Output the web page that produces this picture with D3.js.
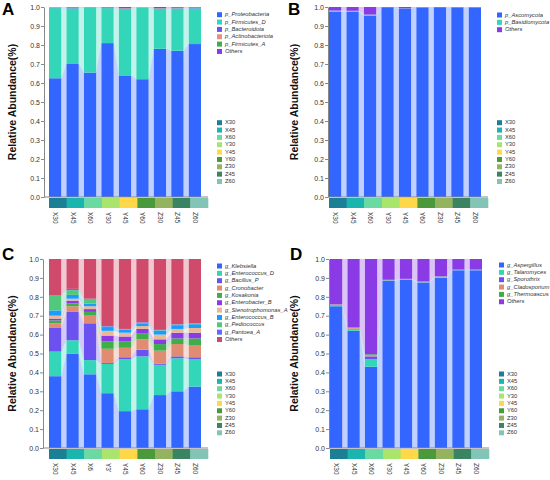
<!DOCTYPE html>
<html>
<head>
<meta charset="utf-8">
<script src="https://cdn.jsdelivr.net/npm/d3@7"></script>
<style>
  body { margin: 0; background: #fff; }
  svg { font-family: "Liberation Sans", Arial, sans-serif; }
</style>
</head>
<body>
<svg id="chart" width="550" height="480"></svg>
<script>
// Samples shared by all four panels
const samples = ["X30", "X45", "X60", "Y30", "Y45", "Y60", "Z30", "Z45", "Z60"];
const sampleLabelsC = ["X30", "X45", "X6", "Y3'", "Y45", "Y60", "Z30", "Z45", "Z60"];
const sampleColors = ["#1b7f95", "#1bb5b0", "#6bd9a2", "#a9e56c", "#ffd84a", "#4a9a3c", "#93b35f", "#3b8463", "#82c5b6"];
const yTicks = [0, 0.1, 0.2, 0.3, 0.4, 0.5, 0.6, 0.7, 0.8, 0.9, 1.0];

// Panel A - bacterial phyla
const seriesA = ["p_Proteobacteria", "p_Firmicutes_D", "p_Bacteroidota", "p_Actinobacteriota", "p_Firmicutes_A", "Others"];
const colorsA = ["#3366ff", "#33d6b8", "#6b52f0", "#e5917a", "#3fae4a", "#8b3be6"];
const proteobacteria = [0.625, 0.700, 0.655, 0.810, 0.640, 0.620, 0.780, 0.770, 0.805];
const firmicutesD = [0.369, 0.293, 0.340, 0.184, 0.350, 0.376, 0.210, 0.222, 0.188];
const bacteroidota = [0.001, 0.002, 0.001, 0.001, 0.001, 0.001, 0.002, 0.002, 0.002];
const actinobacteriota = [0.004, 0.001, 0.002, 0.001, 0.001, 0.002, 0.001, 0.001, 0.001];
const firmicutesA = [0.001, 0.001, 0.001, 0.001, 0.001, 0.001, 0.001, 0.001, 0.001];
const othersA = [0.000, 0.003, 0.001, 0.003, 0.007, 0.000, 0.006, 0.004, 0.003];

// Panel B - fungal phyla
const seriesB = ["p_Ascomycota", "p_Basidiomycota", "Others"];
const colorsB = ["#3366ff", "#33d6b8", "#8b3be6"];
const ascomycota = [0.975, 0.975, 0.955, 0.995, 0.992, 0.997, 0.995, 0.998, 0.998];
const basidiomycota = [0.006, 0.005, 0.005, 0.001, 0.001, 0.001, 0.001, 0.001, 0.001];
const othersB = [0.019, 0.020, 0.040, 0.004, 0.007, 0.002, 0.004, 0.001, 0.001];

// Panel C - bacterial genera
const seriesC = ["g_Klebsiella", "g_Enterococcus_D", "g_Bacillus_P", "g_Cronobacter", "g_Kosakonia", "g_Enterobacter_B",
  "g_Stenotrophomonas_A", "g_Enterococcus_B", "g_Pediococcus", "g_Pantoea_A", "Others"];
const colorsC = ["#3366ff", "#33d6b8", "#6b52f0", "#e08c72", "#3fae4a", "#8b3be6", "#e9b894", "#1a9cff", "#4fc97e", "#5b6cff", "#cf4a6b"];
const klebsiella = [0.380, 0.500, 0.390, 0.290, 0.195, 0.205, 0.280, 0.300, 0.325];
const enterococcusD = [0.130, 0.070, 0.075, 0.155, 0.275, 0.280, 0.160, 0.175, 0.145];
const bacillusP = [0.125, 0.150, 0.195, 0.005, 0.010, 0.035, 0.005, 0.010, 0.010];
const cronobacter = [0.025, 0.030, 0.040, 0.075, 0.050, 0.055, 0.070, 0.065, 0.065];
const kosakonia = [0.015, 0.015, 0.020, 0.040, 0.035, 0.030, 0.035, 0.030, 0.035];
const enterobacterB = [0.010, 0.015, 0.015, 0.030, 0.025, 0.025, 0.025, 0.030, 0.030];
const stenotrophomonasA = [0.015, 0.010, 0.015, 0.025, 0.020, 0.015, 0.025, 0.020, 0.025];
const enterococcusB = [0.028, 0.020, 0.015, 0.020, 0.015, 0.015, 0.020, 0.020, 0.020];
const pediococcus = [0.077, 0.025, 0.020, 0.002, 0.003, 0.002, 0.003, 0.003, 0.003];
const pantoeaA = [0.003, 0.007, 0.005, 0.003, 0.002, 0.003, 0.002, 0.002, 0.002];
const othersC = [0.192, 0.158, 0.210, 0.355, 0.370, 0.335, 0.375, 0.345, 0.340];

// Panel D - fungal genera
const seriesD = ["g_Aspergillus", "g_Talaromyces", "g_Sporothrix", "g_Cladosporium", "g_Thermoascus", "Others"];
const colorsD = ["#3366ff", "#33d6b8", "#6b52f0", "#e08c72", "#3fae4a", "#8b3be6"];
const aspergillus = [0.750, 0.620, 0.430, 0.885, 0.890, 0.875, 0.900, 0.940, 0.940];
const talaromyces = [0.005, 0.008, 0.040, 0.002, 0.002, 0.002, 0.002, 0.001, 0.001];
const sporothrix = [0.002, 0.003, 0.015, 0.001, 0.001, 0.001, 0.001, 0.001, 0.001];
const cladosporium = [0.002, 0.005, 0.006, 0.001, 0.001, 0.002, 0.003, 0.001, 0.001];
const thermoascus = [0.001, 0.004, 0.005, 0.001, 0.001, 0.001, 0.002, 0.001, 0.001];
const othersD = [0.240, 0.360, 0.504, 0.110, 0.105, 0.119, 0.092, 0.056, 0.056];

const svg = d3.select('#chart');

const panels = [
  { letter: 'A', ox: 0, oy: 0, axisX: 44, barLeft: 49, barRight: 201, top: 7, bottom: 197,
    lx: 217, ly: 14.7, sy: 122.7, letterX: 2, letterY: 15, labelX: 13, labels: samples,
    series: seriesA, colors: colorsA,
    values: [proteobacteria, firmicutesD, bacteroidota, actinobacteriota, firmicutesA, othersA] },
  { letter: 'B', ox: 275, oy: 0, axisX: 53, barLeft: 54, barRight: 206, top: 7, bottom: 197,
    lx: 222, ly: 15, sy: 122.7, letterX: 13, letterY: 15, labelX: 20, labels: samples,
    series: seriesB, colors: colorsB,
    values: [ascomycota, basidiomycota, othersB] },
  { letter: 'C', ox: 0, oy: 240, axisX: 43, barLeft: 49, barRight: 201, top: 19, bottom: 208,
    lx: 217, ly: 26, sy: 134, letterX: 2, letterY: 20, labelX: 13, labels: sampleLabelsC,
    series: seriesC, colors: colorsC,
    values: [klebsiella, enterococcusD, bacillusP, cronobacter, kosakonia, enterobacterB,
      stenotrophomonasA, enterococcusB, pediococcus, pantoeaA, othersC] },
  { letter: 'D', ox: 275, oy: 240, axisX: 54, barLeft: 55, barRight: 207, top: 19, bottom: 208,
    lx: 224, ly: 25, sy: 134, letterX: 15, letterY: 20, labelX: 20, labels: samples,
    series: seriesD, colors: colorsD,
    values: [aspergillus, talaromyces, sporothrix, cladosporium, thermoascus, othersD] }
];

panels.forEach(drawPanel);

function drawPanel(p) {
  const g = svg.append('g').attr('transform', `translate(${p.ox},${p.oy})`);

  // Build a table for d3.stack
  const table = samples.map((s, i) => {
    const row = { sample: s };
    p.series.forEach((name, k) => { row[name] = p.values[k][i]; });
    return row;
  });
  const stacked = d3.stack().keys(p.series)(table);

  const x = d3.scaleBand()
    .domain(samples)
    .range([p.barLeft, p.barRight])
    .paddingInner(0.3)
    .paddingOuter(0);
  const bw = x.bandwidth();

  const y = d3.scaleLinear()
    .domain([0, 1])
    .range([p.bottom, p.top]);

  // Light connecting bands between neighbouring bars
  const band = d3.area()
    .x(d => d.x)
    .y0(d => y(d.s[0]))
    .y1(d => y(d.s[1]));

  stacked.forEach((layer, k) => {
    for (let i = 0; i < samples.length - 1; i++) {
      const pts = [
        { x: x(samples[i]) + bw, s: layer[i] },
        { x: x(samples[i + 1]), s: layer[i + 1] }
      ];
      g.append('path')
        .attr('d', band(pts))
        .attr('fill', p.colors[k])
        .attr('fill-opacity', 0.3);
    }
  });

  // Stacked bars
  g.selectAll('.layer')
    .data(stacked)
    .join('g')
    .attr('fill', (d, k) => p.colors[k])
    .selectAll('rect')
    .data(d => d)
    .join('rect')
    .attr('x', d => x(d.data.sample))
    .attr('width', bw)
    .attr('y', d => y(d[1]))
    .attr('height', d => Math.max(0, y(d[0]) - y(d[1])));

  // Y axis
  const yAxis = g.append('g')
    .attr('transform', `translate(${p.axisX},0)`)
    .call(d3.axisLeft(y).tickValues(yTicks).tickFormat(d3.format('.1f')).tickSize(3).tickSizeOuter(0));
  yAxis.select('.domain').attr('stroke', '#888');
  yAxis.selectAll('.tick line').attr('stroke', '#888');
  yAxis.selectAll('.tick text')
    .attr('fill', '#333')
    .attr('font-size', 7)
    .attr('x', -4);

  // X axis baseline
  const stripRight = p.barRight + 7;
  g.append('line')
    .attr('x1', p.axisX).attr('x2', stripRight)
    .attr('y1', p.bottom).attr('y2', p.bottom)
    .attr('stroke', '#888');

  // Sample colour strip
  const cellW = (stripRight - p.barLeft) / samples.length;
  g.selectAll('.cell')
    .data(samples)
    .join('rect')
    .attr('x', (d, i) => p.barLeft + i * cellW)
    .attr('y', p.bottom + 1)
    .attr('width', cellW + 0.3)
    .attr('height', 10)
    .attr('fill', (d, i) => sampleColors[i]);

  // Rotated sample labels
  g.selectAll('.xlab')
    .data(p.labels)
    .join('text')
    .attr('transform', (d, i) => `translate(${x(samples[i]) + bw / 2 - 2},${p.bottom + 15}) rotate(90)`)
    .attr('font-size', 6.5)
    .attr('fill', '#333')
    .text(d => d);

  // Y axis title
  g.append('text')
    .attr('transform', `translate(${p.labelX},${(p.top + p.bottom) / 2}) rotate(-90)`)
    .attr('text-anchor', 'middle')
    .attr('dominant-baseline', 'middle')
    .attr('font-size', 10.5)
    .attr('font-weight', 'bold')
    .attr('fill', '#111')
    .text('Relative Abundance(%)');

  // Panel letter
  g.append('text')
    .attr('x', p.letterX)
    .attr('y', p.letterY)
    .attr('font-size', 17)
    .attr('font-weight', 'bold')
    .attr('fill', '#000')
    .text(p.letter);

  // Series legend
  const step = 7.35;
  const leg = g.append('g');
  p.series.forEach((name, k) => {
    const cy = p.ly + k * step;
    leg.append('rect')
      .attr('x', p.lx).attr('y', cy - 2.5)
      .attr('width', 5).attr('height', 5)
      .attr('fill', p.colors[k]);
    leg.append('text')
      .attr('x', p.lx + 8).attr('y', cy)
      .attr('dominant-baseline', 'middle')
      .attr('font-size', 5.8)
      .attr('font-style', 'italic')
      .attr('fill', '#333')
      .text(name);
  });

  // Sample legend
  samples.forEach((s, i) => {
    const cy = p.sy + i * step;
    leg.append('rect')
      .attr('x', p.lx).attr('y', cy - 2.5)
      .attr('width', 5).attr('height', 5)
      .attr('fill', sampleColors[i]);
    leg.append('text')
      .attr('x', p.lx + 8).attr('y', cy)
      .attr('dominant-baseline', 'middle')
      .attr('font-size', 5.8)
      .attr('fill', '#333')
      .text(s);
  });
}
</script>
</body>
</html>
